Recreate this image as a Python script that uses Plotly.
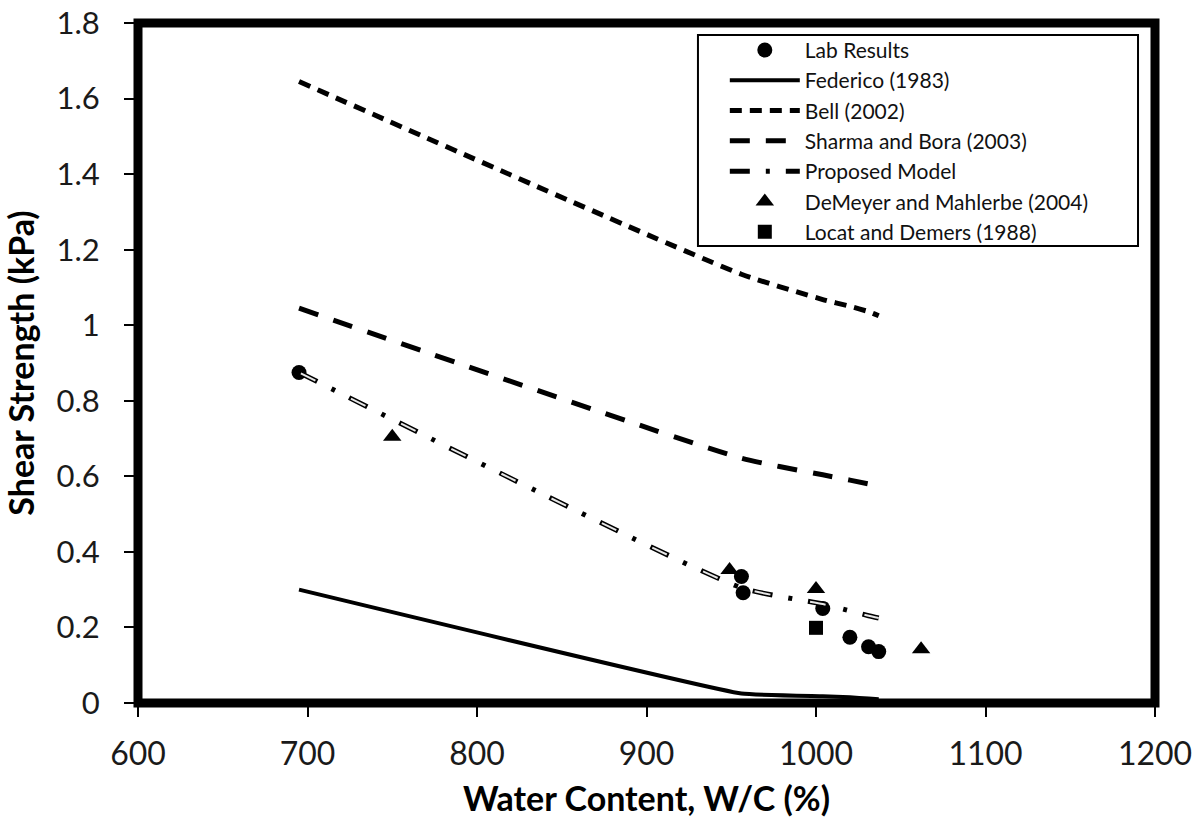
import plotly.graph_objects as go

# ---- data ----
lab_wc = [695, 956, 957, 1004, 1020, 1031, 1037]
lab_ss = [0.875, 0.335, 0.292, 0.25, 0.174, 0.149, 0.136]

model_wc = [695, 956, 1004, 1020, 1031, 1037]
federico = [0.30, 0.025, 0.018, 0.015, 0.012, 0.010]
bell = [1.645, 1.135, 1.068, 1.050, 1.036, 1.025]
proposed = [0.875, 0.305, 0.262, 0.244, 0.231, 0.225]

sharma_wc = [695, 956, 1004, 1020, 1031]
sharma = [1.045, 0.648, 0.604, 0.590, 0.580]

demeyer_wc = [750, 949, 1000, 1062]
demeyer_ss = [0.705, 0.352, 0.302, 0.142]

locat_wc = [1000]
locat_ss = [0.199]

x_ticks = [600, 700, 800, 900, 1000, 1100, 1200]
y_ticks = [0, 0.2, 0.4, 0.6, 0.8, 1.0, 1.2, 1.4, 1.6, 1.8]

FONT = "Lato, Carlito, Calibri, sans-serif"

fig = go.Figure()

fig.add_trace(go.Scatter(x=lab_wc, y=lab_ss, mode="markers", name="Lab Results",
                         marker=dict(symbol="circle", size=15, color="black")))
fig.add_trace(go.Scatter(x=model_wc, y=federico, mode="lines", name="Federico (1983)",
                         line=dict(color="black", width=4, shape="spline", smoothing=0.3)))
fig.add_trace(go.Scatter(x=model_wc, y=bell, mode="lines", name="Bell (2002)",
                         line=dict(color="black", width=5, dash="12px,8px", shape="spline", smoothing=0.5)))
fig.add_trace(go.Scatter(x=sharma_wc, y=sharma, mode="lines", name="Sharma and Bora (2003)",
                         line=dict(color="black", width=5, dash="20px,16px", shape="spline", smoothing=0.5)))
fig.add_trace(go.Scatter(x=model_wc, y=proposed, mode="lines", name="Proposed Model",
                         line=dict(color="black", width=5, dash="20px,16px,4px,16px", shape="spline", smoothing=0.5)))
fig.add_trace(go.Scatter(x=model_wc, y=proposed, mode="lines", showlegend=False, hoverinfo="skip",
                         line=dict(color="#e6e6e6", width=2, dash="0px,2px,16px,38px", shape="spline", smoothing=0.5)))
fig.add_trace(go.Scatter(x=demeyer_wc, y=demeyer_ss, mode="markers", name="DeMeyer and Mahlerbe (2004)",
                         marker=dict(symbol="triangle-up", size=16, color="black")))
fig.add_trace(go.Scatter(x=locat_wc, y=locat_ss, mode="markers", name="Locat and Demers (1988)",
                         marker=dict(symbol="square", size=14, color="black")))

fig.update_layout(
    width=1194, height=818,
    margin=dict(l=138, r=39, t=23, b=115, autoexpand=False),
    paper_bgcolor="white", plot_bgcolor="white",
    font=dict(family=FONT, color="black"),
    showlegend=True,
    legend=dict(x=0.577, y=0.990, xanchor="left", yanchor="top",
                borderwidth=0, bgcolor="rgba(0,0,0,0)",
                font=dict(size=21, family=FONT, color="#111111"),
                itemwidth=70, tracegroupgap=0),
    shapes=[
        dict(type="rect", xref="paper", yref="paper", x0=0.5506, x1=0.9833, y0=0.672, y1=0.9824,
             line=dict(color="black", width=2), fillcolor="white", layer="below"),
        dict(type="rect", xref="paper", yref="paper", x0=0, x1=1, y0=0, y1=1,
             line=dict(color="black", width=9), layer="above"),
    ],
)

fig.update_xaxes(range=[600, 1200], tickvals=x_ticks, showgrid=False, zeroline=False, automargin=False,
                 showline=False, ticks="outside", ticklen=13, tickwidth=2, tickcolor="black",
                 ticklabeloverflow="allow",
                 tickfont=dict(size=32, family=FONT, color="#1a1a1a"), ticklabelstandoff=10,
                 title=dict(text="<b>Water Content, W/C (%)</b>", font=dict(size=34, family=FONT, color="black"),
                            standoff=25))
fig.update_yaxes(range=[0, 1.8], tickvals=y_ticks, showgrid=False, zeroline=False, automargin=False,
                 showline=False, ticks="outside", ticklen=13, tickwidth=2, tickcolor="black",
                 ticklabeloverflow="allow",
                 tickfont=dict(size=31, family=FONT, color="#1a1a1a"), ticklabelstandoff=18,
                 title=dict(text="<b>Shear Strength (kPa)</b>", font=dict(size=34, family=FONT, color="black"),
                            standoff=12))

fig.write_html("out.html", config={"displayModeBar": False},
               post_script="document.body.style.margin='0';document.body.style.overflow='hidden';")
